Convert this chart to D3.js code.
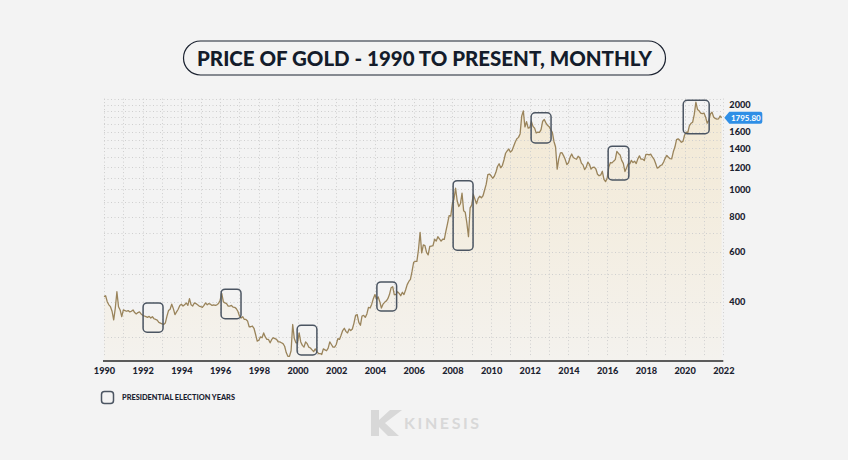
<!DOCTYPE html>
<html>
<head>
<meta charset="utf-8">
<script src="https://cdn.jsdelivr.net/npm/d3@7"></script>
<style>
  html, body { margin: 0; padding: 0; background: #f3f3f3; }
  svg { display: block; }
  text { font-family: "Lato", "Open Sans", sans-serif; }
</style>
</head>
<body>
<svg id="chart" width="848" height="460"></svg>
<script>
// ---------- DATA ----------
const startYear = 1990;
const price1990 = [417, 420, 400, 390, 384, 370, 345, 379, 434, 384, 374, 354];
const price1991 = [374, 372, 370, 372, 368, 370, 374, 366, 362, 366, 368, 362];
const price1992 = [358, 356, 354, 352, 355, 350, 354, 348, 346, 344, 338, 336];
const price1993 = [334, 332, 336, 355, 372, 376, 392, 378, 360, 368, 376, 388];
const price1994 = [392, 386, 390, 396, 388, 410, 390, 386, 396, 394, 390, 386];
const price1995 = [384, 382, 388, 396, 390, 394, 392, 388, 390, 388, 390, 394];
const price1996 = [405, 428, 400, 396, 394, 386, 386, 388, 383, 382, 378, 370];
const price1997 = [356, 350, 354, 346, 346, 342, 326, 326, 328, 322, 306, 290];
const price1998 = [292, 300, 298, 310, 300, 294, 294, 286, 294, 298, 296, 294];
const price1999 = [288, 288, 286, 284, 278, 264, 256, 256, 268, 332, 296, 286];
const price2000 = [286, 310, 288, 280, 276, 288, 284, 276, 274, 270, 266, 272];
const price2001 = [266, 262, 262, 260, 272, 270, 268, 274, 288, 282, 276, 276];
const price2002 = [282, 296, 294, 304, 316, 322, 314, 310, 320, 316, 320, 336];
const price2003 = [358, 360, 338, 330, 356, 358, 352, 362, 382, 380, 392, 410];
const price2004 = [424, 408, 416, 400, 380, 392, 398, 402, 410, 424, 448, 452];
const price2005 = [424, 424, 434, 428, 420, 432, 424, 440, 460, 472, 480, 512];
const price2006 = [552, 556, 556, 612, 705, 596, 636, 632, 598, 586, 628, 630];
const price2007 = [632, 666, 656, 680, 668, 656, 666, 666, 712, 756, 808, 804];
const price2008 = [890, 924, 1010, 910, 870, 890, 970, 840, 830, 760, 680, 860];
const price2009 = [880, 960, 924, 890, 930, 946, 934, 950, 996, 1044, 1128, 1134];
const price2010 = [1118, 1096, 1114, 1150, 1206, 1234, 1194, 1216, 1272, 1344, 1370, 1392];
const price2011 = [1356, 1374, 1424, 1474, 1512, 1530, 1574, 1820, 1900, 1666, 1740, 1650];
const price2012 = [1656, 1744, 1674, 1650, 1586, 1596, 1594, 1630, 1746, 1770, 1722, 1688];
const price2013 = [1670, 1628, 1594, 1480, 1414, 1180, 1286, 1348, 1350, 1316, 1276, 1226];
const price2014 = [1244, 1300, 1336, 1298, 1288, 1280, 1312, 1296, 1240, 1222, 1176, 1200];
const price2015 = [1250, 1228, 1180, 1198, 1200, 1182, 1132, 1118, 1126, 1160, 1086, 1066];
const price2016 = [1098, 1200, 1246, 1242, 1260, 1276, 1365, 1342, 1326, 1268, 1238, 1158];
const price2017 = [1192, 1234, 1232, 1268, 1246, 1260, 1236, 1284, 1316, 1280, 1282, 1266];
const price2018 = [1332, 1332, 1326, 1334, 1304, 1282, 1238, 1190, 1198, 1216, 1222, 1252];
const price2019 = [1292, 1320, 1300, 1286, 1284, 1360, 1414, 1502, 1512, 1494, 1470, 1480];
const price2020 = [1560, 1598, 1592, 1684, 1716, 1732, 1846, 2040, 1922, 1900, 1866, 1858];
const price2021 = [1866, 1808, 1718, 1760, 1852, 1880, 1808, 1786, 1776, 1778, 1822, 1795.8];

const lastPrice = 1795.80;
const yTicks = [400, 600, 800, 1000, 1200, 1400, 1600, 2000];
const yGridValues = [300, 400, 500, 600, 700, 800, 900, 1000, 1100, 1200, 1300, 1400, 1500, 1600, 1700, 1800, 1900, 2000, 2100];
const xTicks = [1990, 1992, 1994, 1996, 1998, 2000, 2002, 2004, 2006, 2008, 2010, 2012, 2014, 2016, 2018, 2020, 2022];
const xGridYears = d3.range(1990, 2023);

// election year boxes (time span in years, price span)
const electionYears = [1992, 1996, 2000, 2004, 2008, 2012, 2016, 2020];
const boxStart = [1992.02, 1996.05, 1999.98, 2004.1, 2008.04, 2012.07, 2016.05, 2019.93];
const boxEnd   = [1993.05, 1997.08, 2001.0, 2005.12, 2009.07, 2013.1, 2017.12, 2021.27];
const boxLow   = [312, 348, 259, 371, 609, 1462, 1081, 1576];
const boxHigh  = [396, 443, 330, 470, 1074, 1869, 1424, 2070];

const titleText = "PRICE OF GOLD - 1990 TO PRESENT, MONTHLY";
const legendText = "PRESIDENTIAL ELECTION YEARS";
const brandText = "KINESIS";

// ---------- BUILD ----------
const allYears = [price1990, price1991, price1992, price1993, price1994, price1995, price1996, price1997,
  price1998, price1999, price2000, price2001, price2002, price2003, price2004, price2005, price2006,
  price2007, price2008, price2009, price2010, price2011, price2012, price2013, price2014, price2015,
  price2016, price2017, price2018, price2019, price2020, price2021];
const series = [];
allYears.forEach((arr, yi) => arr.forEach((v, mi) => series.push({ t: startYear + yi + mi / 12, v })));

const svg = d3.select("#chart");

const x = d3.scaleLinear().domain([1990, 2022]).range([104, 723.3]);
const y = d3.scaleLog().domain([246.5, 2216]).range([361, 92]);

const defs = svg.append("defs");
const grad = defs.append("linearGradient").attr("id", "fillGrad")
  .attr("gradientUnits", "userSpaceOnUse")
  .attr("x1", 0).attr("x2", 0).attr("y1", 100).attr("y2", 361);
grad.append("stop").attr("offset", "0%").attr("stop-color", "#f3e9d4");
grad.append("stop").attr("offset", "100%").attr("stop-color", "#f4f2ee");

// area
const area = d3.area().x(d => x(d.t)).y0(y.range()[0]).y1(d => y(d.v));
svg.append("path").datum(series).attr("d", area).attr("fill", "url(#fillGrad)");

// grid
const gGrid = svg.append("g").attr("stroke", "#cfcfcf").attr("stroke-width", 1).attr("stroke-dasharray", "1,2.5");
gGrid.selectAll("line.h").data(yGridValues).join("line").attr("class", "h")
  .attr("x1", x(1990)).attr("x2", x(2022))
  .attr("y1", d => Math.round(y(d)) + 0.5).attr("y2", d => Math.round(y(d)) + 0.5);
gGrid.selectAll("line.v").data(xGridYears).join("line").attr("class", "v")
  .attr("x1", d => Math.round(x(d)) + 0.5).attr("x2", d => Math.round(x(d)) + 0.5)
  .attr("y1", y(2100)).attr("y2", 357);

// line
const line = d3.line().x(d => x(d.t)).y(d => y(d.v));
svg.append("path").datum(series).attr("d", line).attr("fill", "none")
  .attr("stroke", "#9a845b").attr("stroke-width", 1.3).attr("stroke-linejoin", "round");

// election boxes
svg.append("g").selectAll("rect").data(electionYears).join("rect")
  .attr("x", (d, i) => x(boxStart[i]))
  .attr("width", (d, i) => x(boxEnd[i]) - x(boxStart[i]))
  .attr("y", (d, i) => y(boxHigh[i]))
  .attr("height", (d, i) => y(boxLow[i]) - y(boxHigh[i]))
  .attr("rx", 4).attr("ry", 4)
  .attr("fill", "none").attr("stroke", "#4b5562").attr("stroke-width", 1.5);

// x axis
const xAxis = d3.axisBottom(x).tickValues(xTicks).tickFormat(d3.format("d")).tickSize(0).tickPadding(6);
const gx = svg.append("g").attr("transform", `translate(0,${y.range()[0]})`).call(xAxis);
gx.select(".domain").attr("stroke", "#5b5b5b").attr("stroke-width", 2).attr("d", `M${x(1990) - 1},0H${x(2022)}`);
gx.selectAll("text").attr("fill", "#1b2230").attr("font-size", 9.2).attr("font-weight", 900);

// y axis
const yAxis = d3.axisRight(y).tickValues(yTicks).tickFormat(d3.format("d")).tickSize(0).tickPadding(6);
const gy = svg.append("g").attr("transform", `translate(${x(2022)},0)`).call(yAxis);
gy.select(".domain").remove();
gy.selectAll("text").attr("fill", "#1b2230").attr("font-size", 9.2).attr("font-weight", 900);

// last price tag
const tagY = y(lastPrice);
const tagX = x(2022) + 1;
const tag = svg.append("g");
tag.append("path")
  .attr("d", `M${tagX},${tagY} L${tagX + 5},${tagY - 6} H${tagX + 36} a2,2 0 0 1 2,2 V${tagY + 4} a2,2 0 0 1 -2,2 H${tagX + 5} Z`)
  .attr("fill", "#2f8fe6");
tag.append("text").attr("x", tagX + 21.5).attr("y", tagY).attr("dy", "0.35em")
  .attr("text-anchor", "middle").attr("fill", "#ffffff").attr("font-size", 8).attr("font-weight", 700)
  .text(d3.format(".2f")(lastPrice));

// title pill
svg.append("rect").attr("x", 183.5).attr("y", 41).attr("width", 482).attr("height", 34)
  .attr("rx", 17).attr("fill", "none").attr("stroke", "#1b2230").attr("stroke-width", 1.2);
svg.append("text").attr("x", 424.5).attr("y", 58.5).attr("dy", "0.35em").attr("text-anchor", "middle")
  .attr("fill", "#141c2b").attr("font-size", 20).attr("font-weight", 900)
  .attr("textLength", 455).attr("lengthAdjust", "spacingAndGlyphs").text(titleText);

// legend
svg.append("rect").attr("x", 101.5).attr("y", 391.5).attr("width", 12).attr("height", 12).attr("rx", 3)
  .attr("fill", "none").attr("stroke", "#4b5562").attr("stroke-width", 1.5);
svg.append("text").attr("x", 122).attr("y", 397.5).attr("dy", "0.35em").attr("fill", "#1b2230")
  .attr("font-size", 6.8).attr("font-weight", 900)
  .attr("textLength", 113).attr("lengthAdjust", "spacingAndGlyphs").text(legendText);

// brand logo
const logo = svg.append("g").attr("fill", "#d8d8d8");
logo.append("path").attr("d", "M371,410 L379,410 L379,420 L390,410 L402,410 L385,423 L399,436 L388,436 L379,427 L379,436 L371,436 Z");
logo.append("text").attr("x", 404).attr("y", 423).attr("dy", "0.35em").attr("font-size", 16)
  .attr("font-weight", 700).attr("letter-spacing", 2.6).text(brandText);
</script>
</body>
</html>
